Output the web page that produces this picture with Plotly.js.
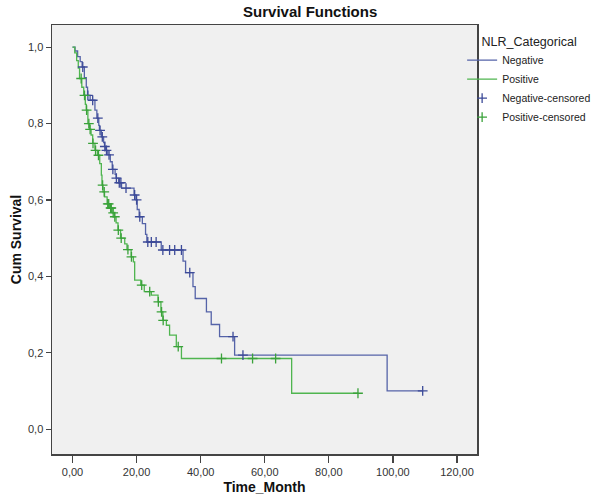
<!DOCTYPE html>
<html>
<head>
<meta charset="utf-8">
<script src="https://cdn.plot.ly/plotly-3.0.1.min.js"></script>
<style>html,body{margin:0;padding:0;background:#fff;}#chart{width:600px;height:500px;}</style>
</head>
<body>
<div id="chart"></div>
<script>
// Negative group: Kaplan-Meier step vertices (time, survival after event)
const negTime = [0, 0.8, 1.6, 2.4, 3.0, 3.7, 4.3, 4.7, 5.5, 7.0, 7.6, 8.2, 8.4, 9.0, 9.7, 10.0, 10.3, 11.0, 11.8, 12.4, 13.3, 13.6, 14.4, 15.3, 19.2, 19.8, 20.2, 20.8, 21.8, 22.8, 23.2, 27.7, 34.5, 35.3, 37.6, 38.3, 41.8, 43.3, 45.9, 50.6, 98.2, 109.3];
const negSurv = [1.0, 0.99, 0.975, 0.962, 0.948, 0.92, 0.895, 0.874, 0.861, 0.835, 0.814, 0.795, 0.782, 0.765, 0.75, 0.74, 0.73, 0.718, 0.70, 0.68, 0.667, 0.657, 0.645, 0.631, 0.613, 0.60, 0.575, 0.556, 0.538, 0.51, 0.49, 0.469, 0.44, 0.41, 0.373, 0.342, 0.307, 0.274, 0.242, 0.194, 0.10, 0.10];
// Negative censored
const negCensTime = [3.2, 4.8, 6.3, 7.9, 8.6, 9.3, 10.1, 10.6, 11.4, 12.6, 13.7, 14.6, 15.1, 16.7, 19.4, 20.0, 21.0, 23.5, 24.6, 26.1, 28.2, 30.3, 31.9, 34.0, 36.6, 50.1, 53.2, 109.3];
const negCensSurv = [0.948, 0.874, 0.861, 0.814, 0.782, 0.765, 0.74, 0.73, 0.718, 0.68, 0.657, 0.645, 0.645, 0.631, 0.613, 0.60, 0.556, 0.49, 0.49, 0.49, 0.469, 0.469, 0.469, 0.469, 0.41, 0.242, 0.194, 0.10];

// Positive group
const posTime = [0, 0.7, 1.3, 1.8, 2.2, 2.9, 3.5, 4.0, 4.3, 4.8, 5.3, 5.8, 6.3, 7.0, 7.8, 8.5, 9.0, 9.2, 9.5, 10.0, 10.8, 11.6, 12.4, 13.1, 13.6, 14.2, 15.0, 16.3, 17.0, 18.3, 19.0, 19.4, 21.3, 22.4, 24.6, 26.7, 27.6, 28.2, 29.3, 30.3, 32.4, 34.0, 68.4, 89.1];
const posSurv = [1.0, 0.985, 0.965, 0.945, 0.918, 0.895, 0.874, 0.85, 0.835, 0.80, 0.785, 0.77, 0.748, 0.73, 0.717, 0.695, 0.665, 0.639, 0.621, 0.608, 0.59, 0.579, 0.566, 0.556, 0.54, 0.521, 0.50, 0.485, 0.47, 0.451, 0.438, 0.39, 0.377, 0.36, 0.351, 0.333, 0.307, 0.285, 0.272, 0.246, 0.216, 0.185, 0.094, 0.094];
const posCensTime = [2.7, 3.75, 4.4, 5.1, 5.5, 6.4, 7.2, 8.1, 9.4, 9.9, 11.0, 11.3, 11.9, 12.1, 12.7, 13.2, 14.3, 15.2, 17.3, 18.4, 21.6, 24.1, 26.8, 27.8, 28.3, 33.0, 46.5, 56.2, 63.4, 89.1];
const posCensSurv = [0.918, 0.874, 0.835, 0.80, 0.785, 0.748, 0.73, 0.717, 0.639, 0.621, 0.59, 0.59, 0.579, 0.579, 0.566, 0.556, 0.521, 0.50, 0.47, 0.451, 0.377, 0.36, 0.333, 0.307, 0.285, 0.216, 0.185, 0.185, 0.185, 0.094];

const groupNames = ["Negative", "Positive", "Negative-censored", "Positive-censored"];
const xTicks = [0, 20, 40, 60, 80, 100, 120];
const yTicks = [0, 0.2, 0.4, 0.6, 0.8, 1.0];

const blueLine = "#5563a8", blueMark = "#3c4a98";
const greenLine = "#4fb54f", greenMark = "#3aa23a";
const FONT = "Arial, 'Liberation Sans', sans-serif";

const traces = [
  {x: negTime, y: negSurv, name: groupNames[0], mode: "lines", line: {shape: "hv", color: blueLine, width: 1.3}},
  {x: posTime, y: posSurv, name: groupNames[1], mode: "lines", line: {shape: "hv", color: greenLine, width: 1.3}},
  {x: negCensTime, y: negCensSurv, name: groupNames[2], mode: "markers",
   marker: {symbol: "cross-thin", size: 7, line: {color: blueMark, width: 1.3}, color: blueMark}},
  {x: posCensTime, y: posCensSurv, name: groupNames[3], mode: "markers",
   marker: {symbol: "cross-thin", size: 7, line: {color: greenMark, width: 1.3}, color: greenMark}}
];

const layout = {
  width: 600, height: 500,
  separators: ",.",
  paper_bgcolor: "#ffffff",
  plot_bgcolor: "#f0f0f0",
  margin: {l: 52, r: 123, t: 25, b: 46, pad: 0, autoexpand: false},
  font: {family: FONT, size: 11, color: "#222"},
  title: {text: "<b>Survival Functions</b>", font: {family: FONT, size: 15, color: "#111"},
          x: 0.517, xref: "container", xanchor: "center", y: 0.976, yref: "container", yanchor: "middle"},
  xaxis: {
    range: [-6.4, 126.25], tickvals: xTicks, tickformat: ".2f",
    showgrid: false, zeroline: false,
    showline: true, mirror: true, linecolor: "#444", linewidth: 1.5,
    ticks: "outside", ticklen: 7, tickcolor: "#444", tickwidth: 1.2,
    tickfont: {family: FONT, size: 11, color: "#333"},
    title: {text: "<b>Time_Month</b>", font: {family: FONT, size: 14, color: "#111"}, standoff: 5}
  },
  yaxis: {
    range: [-0.065, 1.058], tickvals: yTicks, tickformat: ".1f",
    showgrid: false, zeroline: false,
    showline: true, mirror: true, linecolor: "#444", linewidth: 1.5,
    ticks: "outside", ticklen: 5, tickcolor: "#444", tickwidth: 1.2,
    tickfont: {family: FONT, size: 11, color: "#333"},
    title: {text: "<b>Cum Survival</b>", font: {family: FONT, size: 14, color: "#111"}, standoff: 3}
  },
  showlegend: true,
  legend: {
    x: 0.965, xanchor: "left", y: 0.99, yanchor: "top",
    bgcolor: "rgba(0,0,0,0)", borderwidth: 0,
    font: {family: FONT, size: 10.5, color: "#222"},
    title: {text: "&nbsp;&nbsp;&nbsp;&nbsp;&nbsp;NLR_Categorical", font: {family: FONT, size: 12.5, color: "#222"}},
    itemwidth: 30, tracegroupgap: 0
  }
};

Plotly.newPlot("chart", traces, layout, {displayModeBar: false, staticPlot: true});
</script>
</body>
</html>
